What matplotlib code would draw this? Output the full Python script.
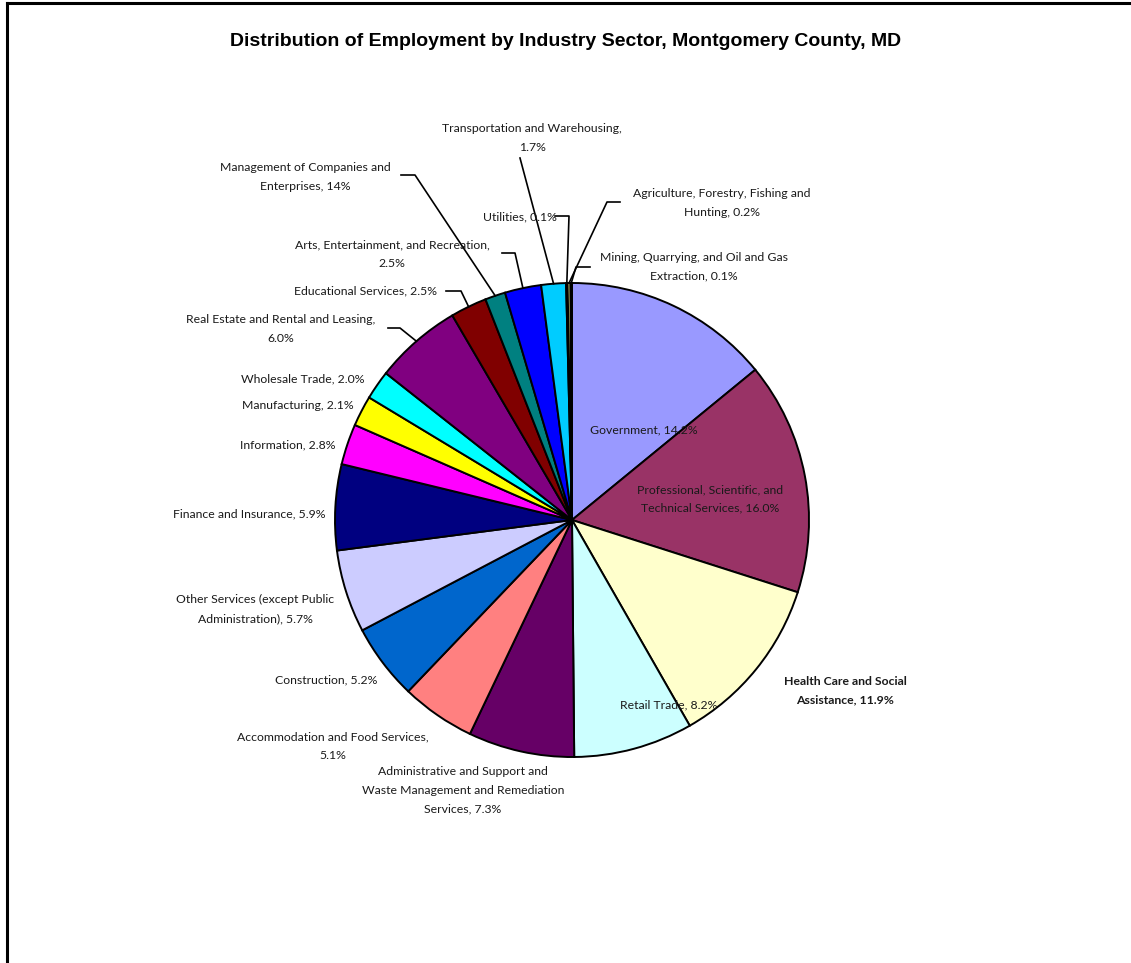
import numpy as np
import matplotlib
matplotlib.use("Agg")
import matplotlib.pyplot as plt

# data, clockwise from 12 o'clock
sectors = ["Government", "Professional, Scientific, and\nTechnical Services",
           "Health Care and Social\nAssistance", "Retail Trade",
           "Administrative and Support and\nWaste Management and Remediation\nServices",
           "Accommodation and Food Services,\n", "Construction",
           "Other Services (except Public\nAdministration)", "Finance and Insurance",
           "Information", "Manufacturing", "Wholesale Trade",
           "Real Estate and Rental and Leasing,\n", "Educational Services",
           "Management of Companies and\nEnterprises", "Arts, Entertainment, and Recreation,\n",
           "Transportation and Warehousing,\n", "Utilities",
           "Agriculture, Forestry, Fishing and\nHunting", "Mining, Quarrying, and Oil and Gas\nExtraction"]
shares = [14.2, 16.0, 11.9, 8.2, 7.3, 5.1, 5.2, 5.7, 5.9, 2.8,
          2.1, 2.0, 6.0, 2.5, 1.4, 2.5, 1.7, 0.1, 0.2, 0.1]
pct_text = ["14.2%", "16.0%", "11.9%", "8.2%", "7.3%", "5.1%", "5.2%", "5.7%", "5.9%", "2.8%",
            "2.1%", "2.0%", "6.0%", "2.5%", "14%", "2.5%", "1.7%", "0.1%", "0.2%", "0.1%"]
colors = ["#9999FF", "#993366", "#FFFFCC", "#CCFFFF", "#660066", "#FF8080", "#0066CC",
          "#CCCCFF", "#000080", "#FF00FF", "#FFFF00", "#00FFFF", "#800080", "#800000",
          "#008080", "#0000FF", "#00CCFF", "#CCFFCC", "#FFFF99", "#99CCFF"]

W, H = 1131, 963
cx, cy, R = 572, 520, 237

# label layout (pixel coords of text centre) and leader elbow points
label_pos = [(644, 430), (710, 499), (845, 691), (669, 705), (463, 790), (333, 746),
             (326, 680), (255, 609), (249, 514), (288, 445), (298, 405), (303, 379),
             (281, 329), (366, 291), (305, 177), (392, 254), (532, 138), (520, 217),
             (722, 203), (694, 267)]
leaders = {12: [(388, 328), (400, 328)],
           13: [(446, 291), (461, 291)],
           14: [(401, 175), (415, 175)],
           15: [(502, 253), (515, 253)],
           16: [(520, 158)],
           17: [(555, 216), (569, 216)],
           18: [(620, 202), (607, 202)],
           19: [(590, 267), (576, 267)]}

fig = plt.figure(figsize=(W / 100, H / 100), dpi=100)
ax = fig.add_axes([0, 0, 1, 1])

wedges, _ = ax.pie(shares, colors=colors, startangle=90, counterclock=False,
                   center=(cx, H - cy), radius=R,
                   wedgeprops=dict(edgecolor="black", linewidth=1.4))
ax.set_xlim(0, W)
ax.set_ylim(0, H)
ax.set_aspect("equal")
ax.axis("off")

font = ["Lato", "DejaVu Sans"]
for i, w in enumerate(wedges):
    txt = sectors[i]
    if txt.endswith("\n"):
        txt = txt + pct_text[i]
    else:
        txt = txt + ", " + pct_text[i]
    x, y = label_pos[i]
    ax.text(x, H - y, txt, ha="center", va="center", fontsize=8.8, family=font,
            fontweight="bold" if i == 2 else "normal", color="#1a1a1a", linespacing=1.85)
    if i in leaders:
        mid = np.deg2rad((w.theta1 + w.theta2) / 2)
        ex, ey = cx + R * np.cos(mid), H - cy + R * np.sin(mid)
        pts = [(px, H - py) for px, py in leaders[i]] + [(ex, ey)]
        ax.plot([p[0] for p in pts], [p[1] for p in pts], color="black", lw=1.2)

fig.text(0.5, 1 - 42 / H, "Distribution of Employment by Industry Sector, Montgomery County, MD",
         ha="center", va="center", fontsize=14, fontweight="bold", family="Liberation Sans")

# chart-area border (top and left edges visible)
ax.plot([7, W], [H - 3, H - 3], color="black", lw=2.2, clip_on=False)
ax.plot([7, 7], [H - 3, 0], color="black", lw=2.2, clip_on=False)

fig.savefig("out.png", dpi=100)
